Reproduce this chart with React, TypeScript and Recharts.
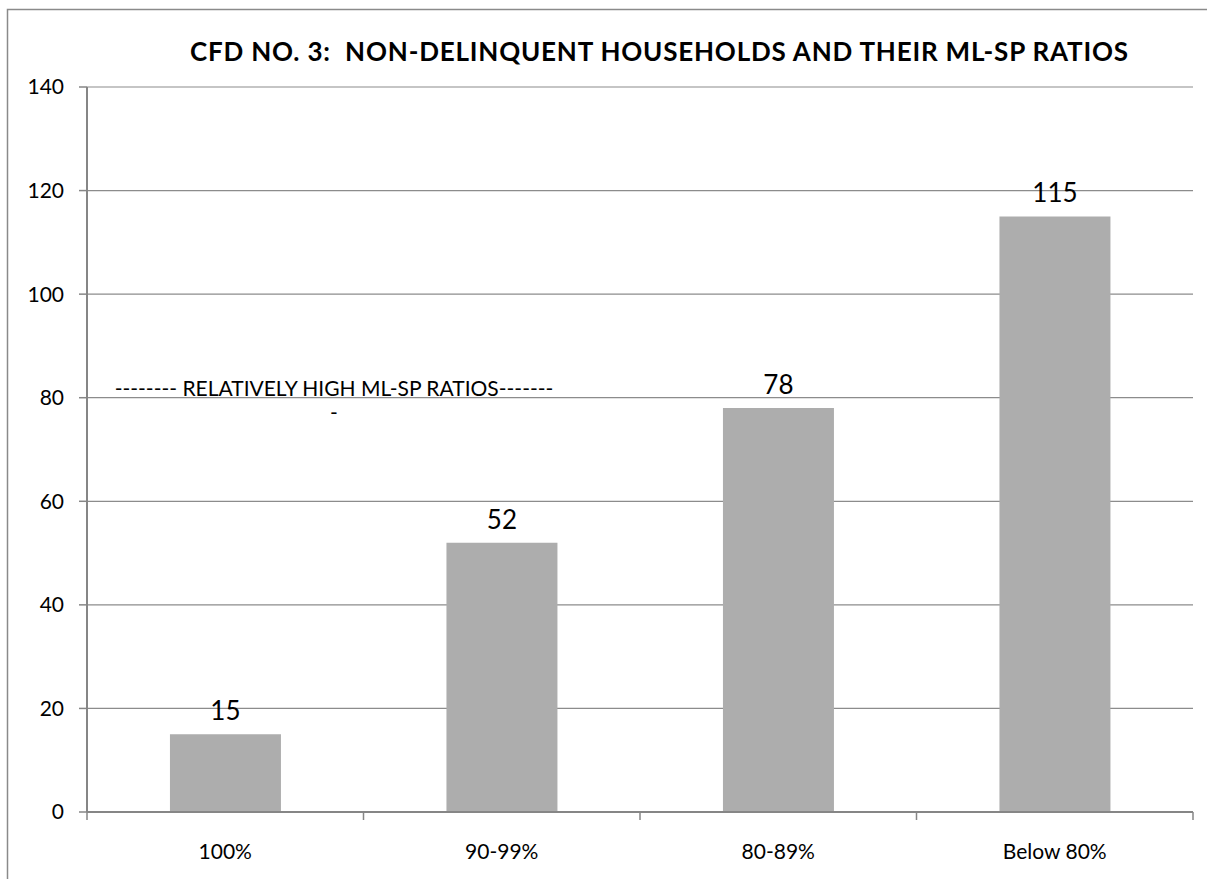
import { Bar, BarChart, CartesianGrid, LabelList, XAxis, YAxis } from 'recharts';

const categories = ['100%', '90-99%', '80-89%', 'Below 80%'];
const households = [15, 52, 78, 115];
const yTicks = [0, 20, 40, 60, 80, 100, 120, 140];

const chartTitle = 'CFD NO. 3:  NON-DELINQUENT HOUSEHOLDS AND THEIR ML-SP RATIOS';
const noteLines = ['-------- RELATIVELY HIGH ML-SP RATIOS-------', '-'];

const data = categories.map((category, i) => ({ category, households: households[i] }));

const W = 1207;
const H = 879;
const MARGIN = { top: 87, right: 14, bottom: 0, left: 0 };
const Y_AXIS_W = 87;
const X_AXIS_H = 67;
const PLOT_W = W - MARGIN.left - MARGIN.right - Y_AXIS_W;

const FONT = 'Lato, "Open Sans", sans-serif';
const AXIS = '#868686';
const GRID = '#8c8c8c';
const BAR = '#adadad';

// category labels centred in the band, tick marks on the band edges (Excel style)
const CategoryTick = (props: any) => {
  const { x, y, payload, index } = props;
  const band = PLOT_W / categories.length;
  const left = x - band / 2;
  const right = x + band / 2;
  return (
    <g>
      <line x1={left} y1={y} x2={left} y2={y + 8} stroke={AXIS} strokeWidth={1.5} />
      {index === categories.length - 1 && (
        <line x1={right} y1={y} x2={right} y2={y + 8} stroke={AXIS} strokeWidth={1.5} />
      )}
      <text x={x} y={y + 47} textAnchor="middle" fontFamily={FONT} fontSize={21} fill="#000">
        {payload.value}
      </text>
    </g>
  );
};

export default function App() {
  return (
    <div style={{ position: 'relative', width: W, height: H, background: '#fff', overflow: 'hidden' }}>
      <style>{'body{margin:0}'}</style>
      <BarChart width={W} height={H} data={data} margin={MARGIN} barCategoryGap="30%">
        <CartesianGrid horizontal vertical={false} stroke={GRID} strokeWidth={1.2} />
        <XAxis
          dataKey="category"
          height={X_AXIS_H}
          tickLine={false}
          tickSize={0}
          tickMargin={0}
          axisLine={{ stroke: AXIS, strokeWidth: 2 }}
          tick={<CategoryTick />}
          interval={0}
        />
        <YAxis
          width={Y_AXIS_W}
          domain={[0, 140]}
          ticks={yTicks}
          tickSize={8}
          tickMargin={15}
          axisLine={{ stroke: AXIS, strokeWidth: 2 }}
          tickLine={{ stroke: AXIS, strokeWidth: 1.5 }}
          tick={{ fontFamily: FONT, fontSize: 21, fill: '#000' }}
        />
        <YAxis
          yAxisId="frame"
          orientation="right"
          width={0}
          domain={[0, 140]}
          tick={false}
          tickLine={false}
          axisLine={{ stroke: AXIS, strokeWidth: 2 }}
        />
        <Bar dataKey="households" fill={BAR} isAnimationActive={false}>
          <LabelList
            dataKey="households"
            position="top"
            offset={14}
            style={{ fontFamily: FONT, fontSize: 26, fill: '#000' }}
          />
        </Bar>
      </BarChart>
      <svg width={W} height={H} style={{ position: 'absolute', left: 0, top: 0, pointerEvents: 'none' }}>
        <path d={`M7.5 ${H} V9.5 H${W}`} fill="none" stroke="#8a8a8a" strokeWidth={1.5} />
        <text
          x={659}
          y={61}
          textAnchor="middle"
          fontFamily={FONT}
          fontWeight={700}
          fontSize={26}
          textLength={938}
          lengthAdjust="spacing"
          fill="#000"
          style={{ whiteSpace: 'pre' }}
        >
          {chartTitle}
        </text>
        {noteLines.map((line, i) => (
          <text
            key={i}
            x={334}
            y={396 + i * 24}
            textAnchor="middle"
            fontFamily={FONT}
            fontSize={21}
            fill="#000"
          >
            {line}
          </text>
        ))}
      </svg>
    </div>
  );
}
